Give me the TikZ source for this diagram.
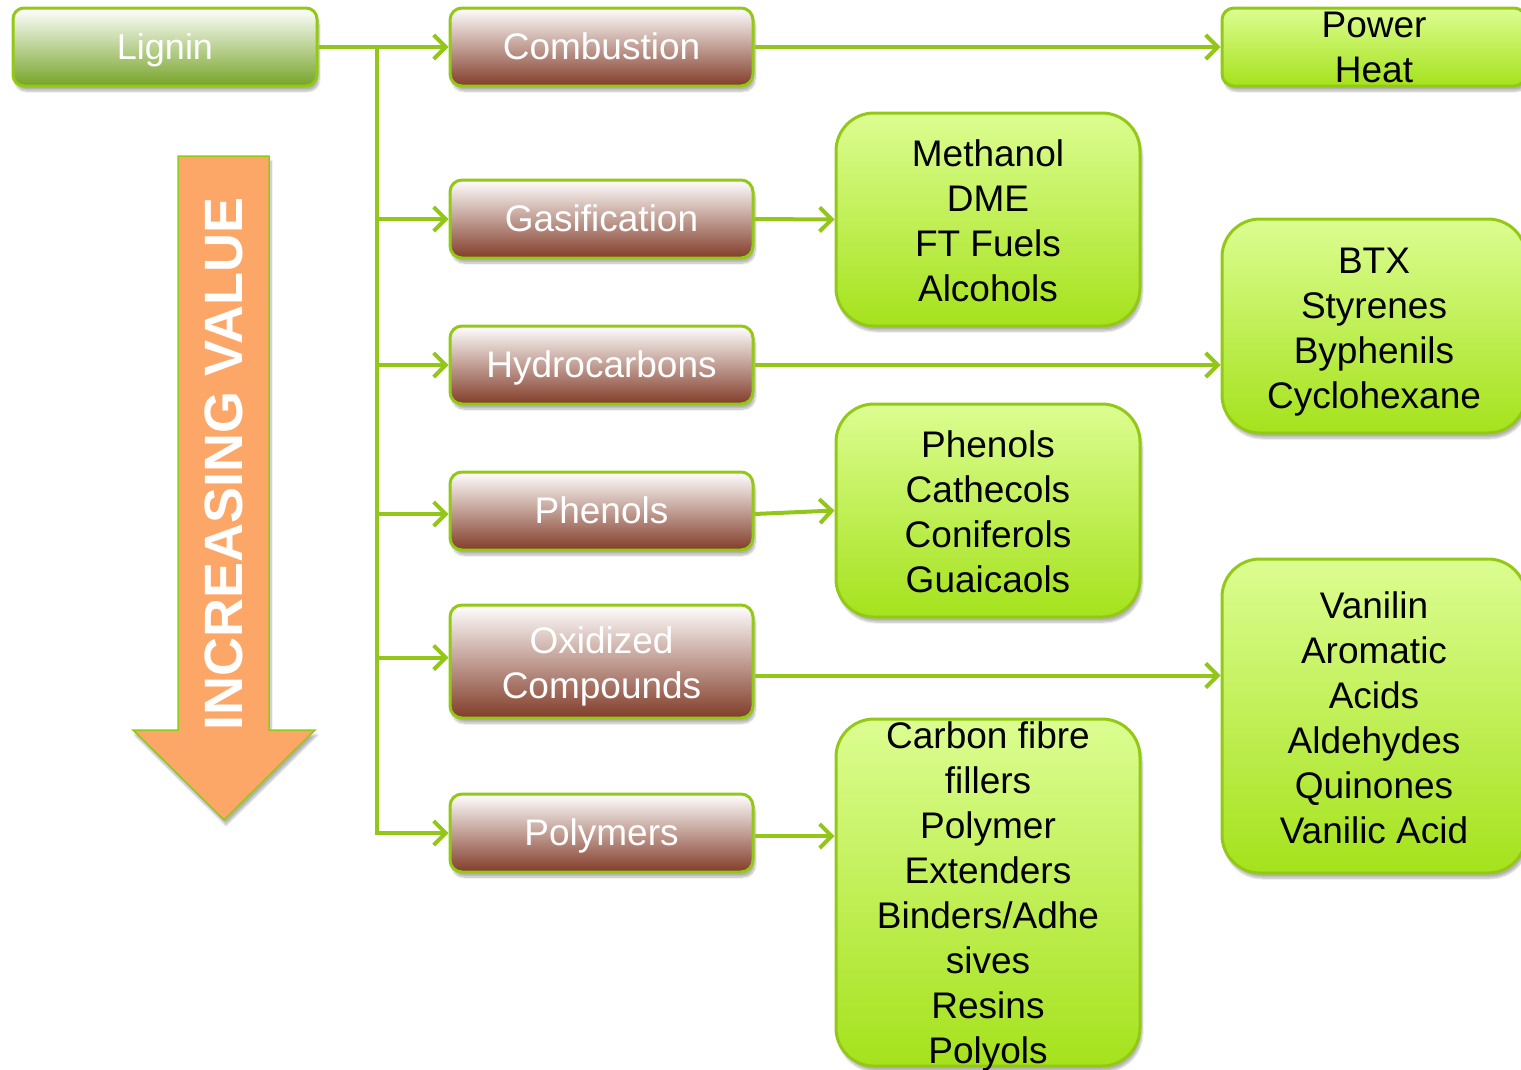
\documentclass[tikz,border=0pt]{standalone}
\usepackage{fontspec}
\setmainfont{Liberation Sans}
\usetikzlibrary{arrows.meta,shadows.blur}
\definecolor{lime}{RGB}{148,200,22}
\definecolor{limeline}{RGB}{146,198,24}
\definecolor{prodtop}{RGB}{220,253,145}
\definecolor{prodbot}{RGB}{165,226,28}
\definecolor{brownbot}{RGB}{130,60,40}
\definecolor{ligbot}{RGB}{118,164,40}
\definecolor{arroworange}{RGB}{252,166,104}
\begin{document}
\begin{tikzpicture}[x=1pt,y=-1pt,
  softshadow/.style={blur shadow={shadow xshift=2pt,shadow yshift=-5pt,shadow blur steps=8,shadow opacity=30}},
  base/.style={draw=lime,line width=3pt,inner sep=0pt,softshadow},
  txt/.style={font=\fontsize{37}{45}\selectfont,align=center,inner sep=0pt},
  oneline/.style={text height=24pt,text depth=0pt},
  srcbox/.style={base,rounded corners=11pt,top color=white,bottom color=ligbot,
    minimum width=304pt,minimum height=78pt,text=white,oneline,font=\fontsize{36}{45}\selectfont},
  procshape/.style={base,rounded corners=12pt,top color=white,bottom color=brownbot,
    minimum width=303pt,minimum height=78pt},
  procbox/.style={procshape,text=white,txt,oneline},
  prodbox/.style={base,rounded corners=38pt,top color=prodtop,bottom color=prodbot,
    minimum width=304pt},
  flow/.style={draw=limeline,line width=4pt,
    -{Straight Barb[length=12pt,width=24pt]}},
  trunk/.style={draw=limeline,line width=4pt}]
\useasboundingbox (0,0) rectangle (1521,1069);
\clip (0,0) rectangle (1521,1069);

% value arrow
\draw[draw=lime,line width=1.5pt,fill=arroworange,softshadow]
  (178,156) -- (269,156) -- (269,730) -- (315,730) -- (224,820)
  -- (133,730) -- (178,730) -- cycle;
\node[rotate=90,text=white,inner sep=0pt,
  font=\bfseries\fontsize{54}{60}\selectfont] (valtxt) at (224,464) {INCREASING VALUE};

% source
\node[srcbox] (lig) at (165,47) {Lignin};

% processes
\node[procbox] (comb)  at (601.5,47)  {Combustion};
\node[procbox] (gas)   at (601.5,219) {Gasification};
\node[procbox] (hyd)   at (601.5,365) {Hydrocarbons};
\node[procbox] (phen)  at (601.5,511) {Phenols};
\node[procshape,minimum height=113pt] (ox) at (601.5,661.5) {};
\node[txt,text=white] (oxT) at ([yshift=-5pt]ox.center) {Oxidized\\Compounds};
\node[procbox] (poly)  at (601.5,833) {Polymers};

% products
\node[prodbox,rounded corners=12pt,minimum height=78pt] (powP) at (1374,47) {};
\node[txt] (powT) at (powP.center) {Power\\Heat};
\node[prodbox,minimum height=213pt] (gasP) at (988,219.5) {};
\node[txt] (gasT) at ([yshift=-1pt]gasP.center) {Methanol\\DME\\FT Fuels\\Alcohols};
\node[prodbox,minimum height=214pt] (hydP) at (1374,326) {};
\node[txt] (hydT) at ([yshift=-6pt]hydP.center) {BTX\\Styrenes\\Byphenils\\Cyclohexane};
\node[prodbox,minimum height=213pt] (phenP) at (988,510.5) {};
\node[txt] (phenT) at ([yshift=-1pt]phenP.center) {Phenols\\Cathecols\\Coniferols\\Guaicaols};
\node[prodbox,minimum height=314pt] (oxP) at (1374,716) {};
\node[txt] (oxT2) at ([yshift=-2pt]oxP.center) {Vanilin\\Aromatic\\Acids\\Aldehydes\\Quinones\\Vanilic Acid};
\node[prodbox,minimum height=347pt] (polP) at (988,892.5) {};
\node[txt] (polT) at ([yshift=-4pt]polP.center) {Carbon fibre\\fillers\\Polymer\\Extenders\\Binders/Adhe\\sives\\Resins\\Polyols};

% connectors
\coordinate (split) at (377,47);
\draw[flow] (lig.east) -- (comb.west);
\draw[trunk] (split) -- (split |- poly.west);
\draw[flow] (split) |- (poly.west);
\draw[flow] (split |- gas.west) -- (gas.west);
\draw[flow] (split |- hyd.west) -- (hyd.west);
\draw[flow] ([yshift=-3pt]split |- phen.west) -- ([yshift=-3pt]phen.west);
\draw[flow] ([yshift=4pt]split |- ox.west) -- ([yshift=4pt]ox.west);

\draw[flow] (comb.east) -- (powP.west);
\draw[flow] (gas.east) -- (gasP.west);
\draw[flow] (hyd.east) -- (hyd.east -| hydP.west);
\draw[flow] ([yshift=-3pt]phen.east) -- (phenP.west);
\draw[flow] ([yshift=-14pt]ox.east) -- ([yshift=-14pt]ox.east -| oxP.west);
\draw[flow] ([yshift=-3pt]poly.east) -- ([yshift=-3pt]poly.east -| polP.west);
\end{tikzpicture}
\end{document}
